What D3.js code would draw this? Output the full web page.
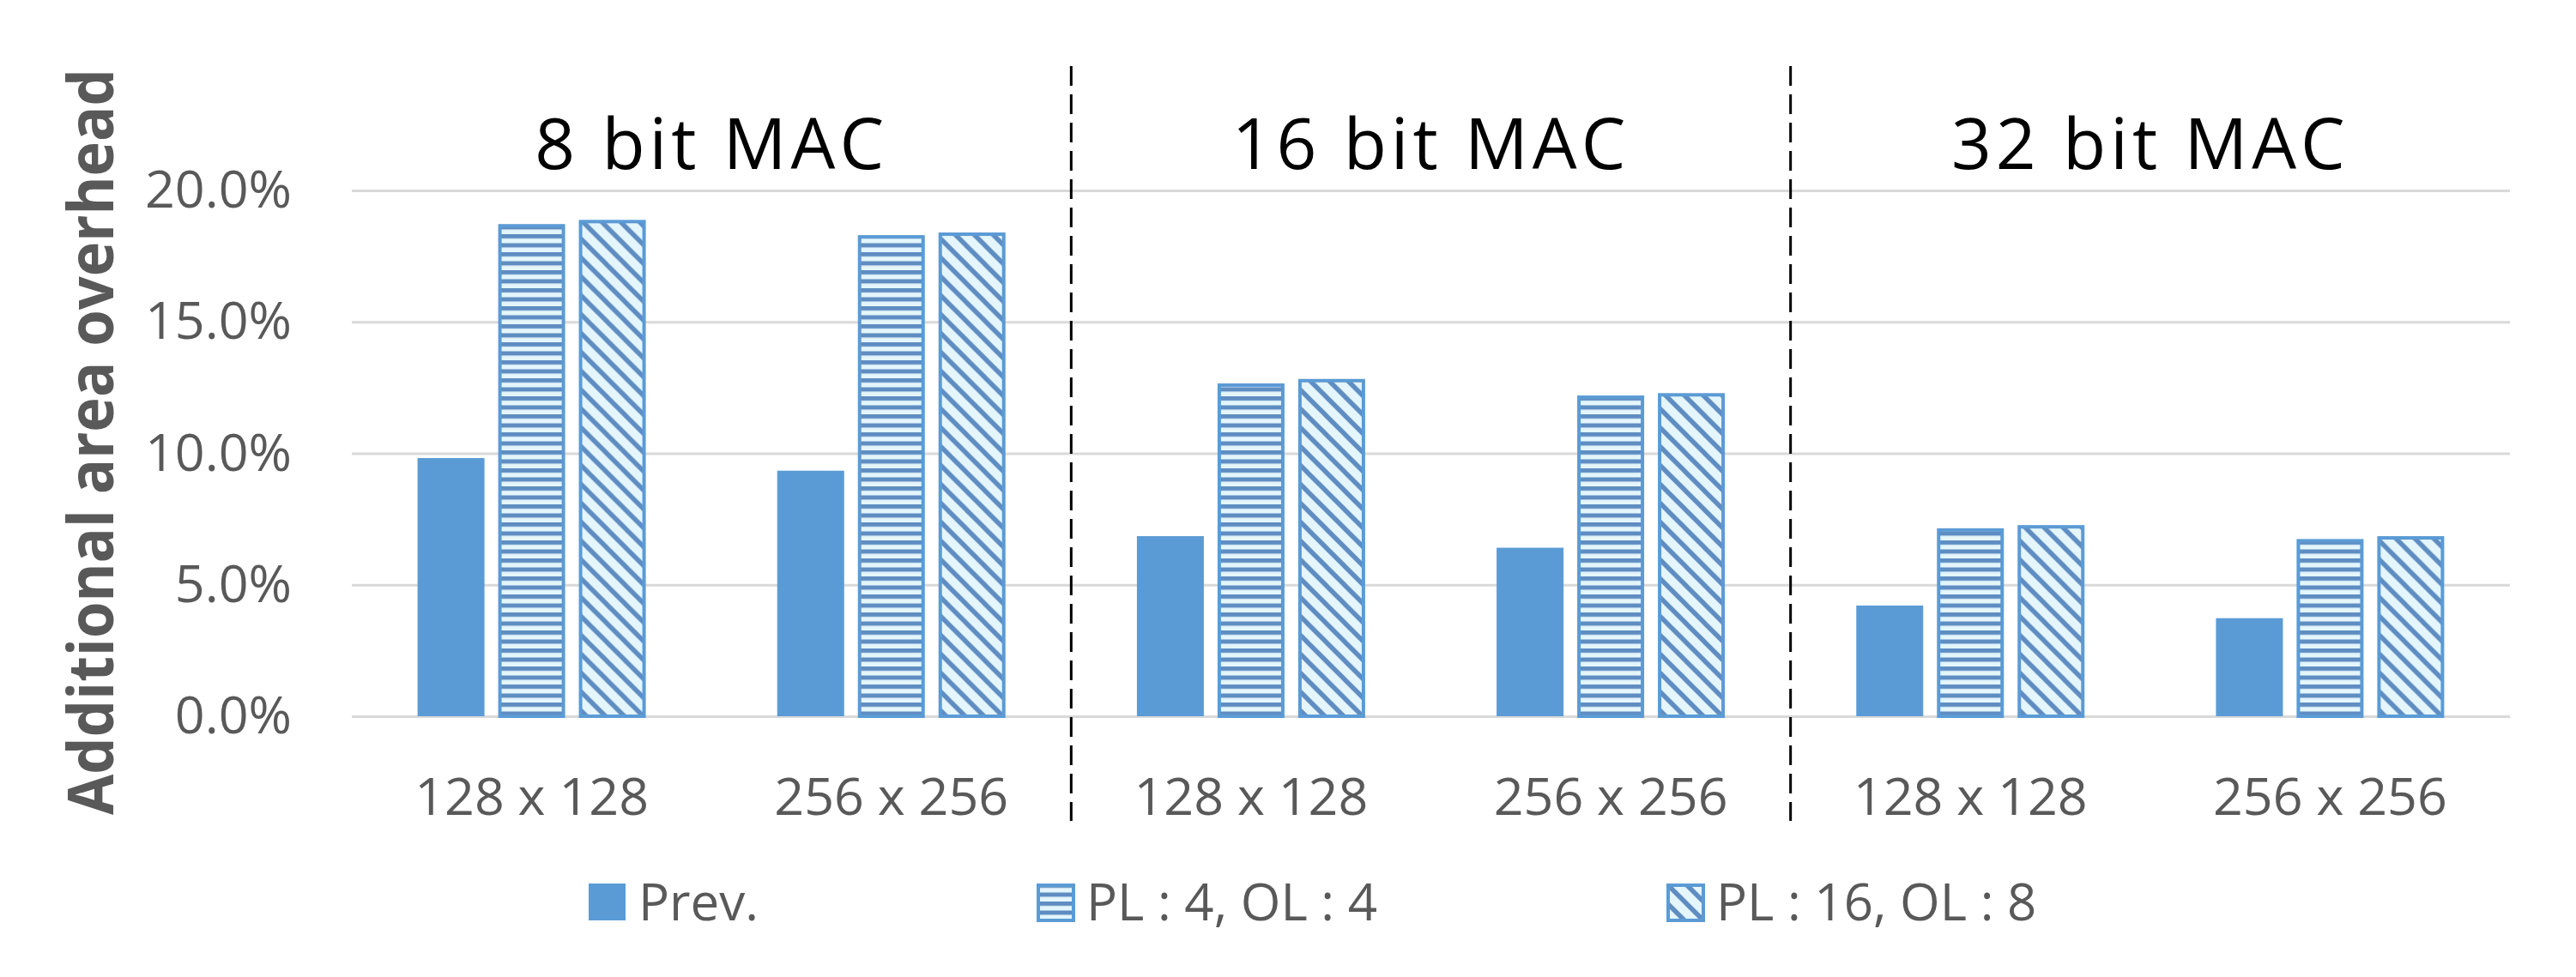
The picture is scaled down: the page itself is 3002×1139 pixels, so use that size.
<!DOCTYPE html>
<html>
<head>
<meta charset="utf-8">
<script src="https://cdnjs.cloudflare.com/ajax/libs/d3/7.8.5/d3.min.js"></script>
<style>
  body { margin: 0; background: #fff; }
  text { font-family: "Open Sans", "Noto Sans", sans-serif; }
</style>
</head>
<body>
<svg width="3002" height="1139"></svg>
<script>
// Additional area overhead per array size, grouped by MAC width

var categories = ['128 x 128', '256 x 256', '128 x 128', '256 x 256', '128 x 128', '256 x 256'];
var groupTitles = ['8 bit MAC', '16 bit MAC', '32 bit MAC'];
var seriesNames = ['Prev.', 'PL : 4, OL : 4', 'PL : 16, OL : 8'];

// values in percent
var prevValues = [9.82, 9.34, 6.85, 6.41, 4.21, 3.73];
var pl4Values = [18.72, 18.30, 12.66, 12.20, 7.15, 6.74];
var pl16Values = [18.88, 18.40, 12.83, 12.29, 7.27, 6.85];

var yTicks = [0, 5, 10, 15, 20];

var svg = d3.select('svg');
var svgWidth = +svg.attr('width');
var svgHeight = +svg.attr('height');

var plot = {l: 410, r: 2925, t: 222, b: 835};
var blue = '#5b9bd5';
var stripe = '#5f8dc2';
var hatchBg = '#e4f5fc';
var textGray = '#595959';

var allSeries = [prevValues, pl4Values, pl16Values];

// patterns for the two hatched series
var defs = svg.append('defs');

var hPat = defs.append('pattern')
    .attr('id', 'hlines')
    .attr('patternUnits', 'userSpaceOnUse')
    .attr('width', 20)
    .attr('height', 10.5);
hPat.append('rect').attr('width', 20).attr('height', 10.5).attr('fill', hatchBg);
hPat.append('rect').attr('y', 0).attr('width', 20).attr('height', 5).attr('fill', stripe);

var dPat = defs.append('pattern')
    .attr('id', 'dlines')
    .attr('patternUnits', 'userSpaceOnUse')
    .attr('width', 22)
    .attr('height', 22);
dPat.append('rect').attr('width', 22).attr('height', 22).attr('fill', hatchBg);
dPat.append('path')
    .attr('d', 'M-5,-5L27,27M-5,17L5,27M17,-5L27,5')
    .attr('stroke', stripe)
    .attr('stroke-width', 5.5);

var fills = [blue, 'url(#hlines)', 'url(#dlines)'];

// scales
var x0 = d3.scaleBand()
    .domain(d3.range(categories.length))
    .range([plot.l, plot.r])
    .paddingInner(0);

var clusterWidth = 266;
var x1 = d3.scaleBand()
    .domain(d3.range(seriesNames.length))
    .range([0, clusterWidth])
    .paddingInner(0.17);

var y = d3.scaleLinear()
    .domain([0, 20])
    .range([plot.b, plot.t]);

// y axis + gridlines
var yAxis = d3.axisLeft(y)
    .tickValues(yTicks)
    .tickSize(-(plot.r - plot.l))
    .tickPadding(70)
    .tickFormat(function(d) { return d3.format('.1f')(d) + '%'; });

var yAxisG = svg.append('g')
    .attr('class', 'axis axis-y')
    .attr('transform', 'translate(' + plot.l + ',0)')
    .call(yAxis);

yAxisG.select('.domain').remove();
yAxisG.selectAll('line')
    .attr('stroke', '#d9d9d9')
    .attr('stroke-width', 3);
yAxisG.selectAll('text')
    .attr('fill', textGray)
    .style('font-size', '61px');

// separators between the MAC groups
var sepX = [x0(2), x0(4)];
svg.selectAll('.sep')
    .data(sepX)
    .enter()
    .append('line')
    .attr('class', 'sep')
    .attr('x1', function(d) { return d; })
    .attr('x2', function(d) { return d; })
    .attr('y1', 77)
    .attr('y2', 957)
    .attr('stroke', '#000')
    .attr('stroke-width', 3)
    .attr('stroke-dasharray', '23,10');

// bars
var catG = svg.selectAll('.cat')
    .data(categories)
    .enter()
    .append('g')
    .attr('class', 'cat')
    .attr('transform', function(d, i) {
        return 'translate(' + (x0(i) + (x0.bandwidth() - clusterWidth) / 2) + ',0)';
    });

catG.selectAll('rect')
    .data(function(d, i) {
        return allSeries.map(function(s, j) { return {s: j, v: s[i]}; });
    })
    .enter()
    .append('rect')
    .attr('x', function(d) { return x1(d.s) + (d.s > 0 ? 2 : 0); })
    .attr('y', function(d) { return y(d.v) + (d.s > 0 ? 2 : 0); })
    .attr('width', function(d) { return x1.bandwidth() - (d.s > 0 ? 4 : 0); })
    .attr('height', function(d) { return y(0) - y(d.v) - (d.s > 0 ? 2 : 0); })
    .attr('fill', function(d) { return fills[d.s]; })
    .attr('stroke', function(d) { return d.s > 0 ? blue : 'none'; })
    .attr('stroke-width', 4);

// category labels
catG.append('text')
    .attr('x', clusterWidth / 2)
    .attr('y', 950)
    .attr('text-anchor', 'middle')
    .attr('fill', textGray)
    .style('font-size', '61px')
    .text(function(d) { return d; });

// group titles
svg.selectAll('.groupTitle')
    .data(groupTitles)
    .enter()
    .append('text')
    .attr('class', 'groupTitle')
    .attr('x', function(d, i) { return x0(i * 2 + 1); })
    .attr('y', 197)
    .attr('text-anchor', 'middle')
    .attr('fill', '#000')
    .style('font-size', '82px')
    .style('letter-spacing', '5px')
    .text(function(d) { return d; });

// y axis title
svg.append('text')
    .attr('transform', 'translate(132,515) rotate(-90)')
    .attr('text-anchor', 'middle')
    .attr('fill', textGray)
    .attr('textLength', 870)
    .attr('lengthAdjust', 'spacingAndGlyphs')
    .style('font-weight', 'bold')
    .style('font-size', '74px')
    .text('Additional area overhead');

// legend
var legendX = [686, 1208, 1942];
var legend = svg.selectAll('.legendItem')
    .data(seriesNames)
    .enter()
    .append('g')
    .attr('class', 'legendItem')
    .attr('transform', function(d, i) { return 'translate(' + legendX[i] + ',1030)'; });

legend.append('rect')
    .attr('x', function(d, i) { return i > 0 ? 2 : 0; })
    .attr('y', function(d, i) { return i > 0 ? 2 : 0; })
    .attr('width', function(d, i) { return i > 0 ? 41 : 43; })
    .attr('height', function(d, i) { return i > 0 ? 41 : 43; })
    .attr('fill', function(d, i) { return fills[i]; })
    .attr('stroke', function(d, i) { return i > 0 ? blue : 'none'; })
    .attr('stroke-width', 4);

legend.append('text')
    .attr('x', 58)
    .attr('y', 43)
    .attr('fill', textGray)
    .style('font-size', '60px')
    .text(function(d) { return d; });
</script>
</body>
</html>
